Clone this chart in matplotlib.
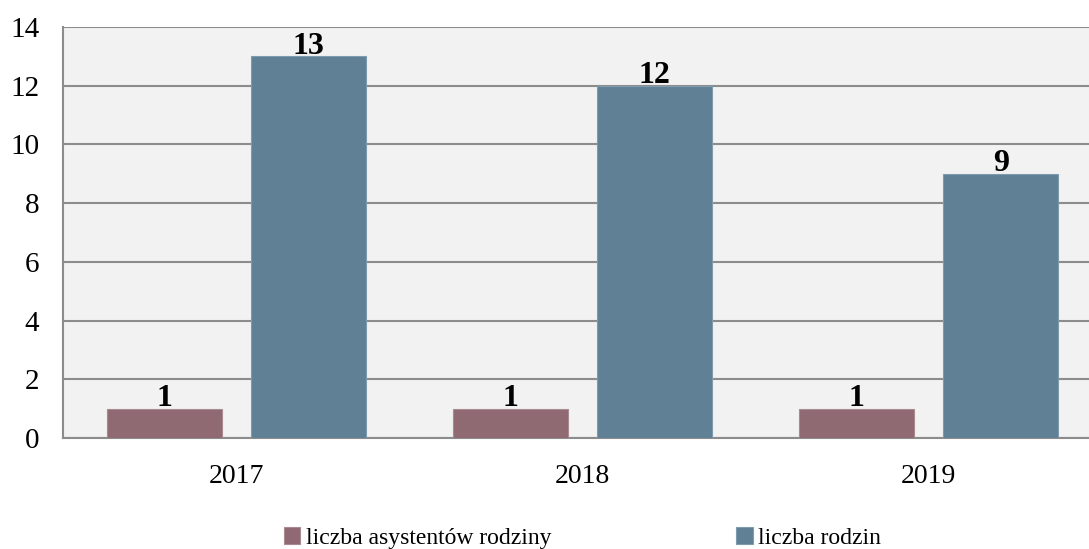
import numpy as np
import matplotlib.pyplot as plt

# Dane z wykresu
years = ["2017", "2018", "2019"]
asystenci = [1, 1, 1]
rodziny = [13, 12, 9]
series_names = ["liczba asystentów rodziny", "liczba rodzin"]

plt.rcParams['font.family'] = ['Liberation Serif', 'DejaVu Serif']

fig = plt.figure(figsize=(10.89, 5.49), dpi=100)
ax = fig.add_axes([0.0579, 0.2022, 0.954, 0.7486])
ax.set_facecolor("#f2f2f2")

x = np.arange(len(years))
w = 0.333
off = 0.208
b1 = ax.bar(x - off, asystenci, w, color="#8f6a72", edgecolor="#a88a90", linewidth=0.8, zorder=3)
b2 = ax.bar(x + off, rodziny, w, color="#608095", edgecolor="#7f9cae", linewidth=0.8, zorder=3)

for bars in (b1, b2):
    for r in bars:
        ax.annotate(f"{int(r.get_height())}", (r.get_x() + r.get_width() / 2, r.get_height()),
                    xytext=(0, -3), textcoords="offset points", ha="center", va="bottom",
                    fontsize=23, fontweight="bold", zorder=4)

ax.set_xlim(-0.5, 2.5)
ax.set_ylim(0, 14)
ax.set_yticks(range(0, 15, 2))
ax.set_xticks(x)
ax.set_xticklabels(years)
ax.yaxis.grid(True, color="#8c8c8c", linewidth=1.5, zorder=1)
ax.set_axisbelow(True)
ax.tick_params(axis="both", length=0)
ax.tick_params(axis="x", pad=19, labelsize=20)
ax.tick_params(axis="y", pad=17, labelsize=21)
for s in ["top", "right"]:
    ax.spines[s].set_visible(False)
ax.spines["left"].set_color("#8c8c8c")
ax.spines["bottom"].set_color("#8c8c8c")
ax.spines["left"].set_linewidth(1.5)
ax.spines["bottom"].set_linewidth(1.5)

fig.legend([b1, b2], series_names, loc="center", bbox_to_anchor=(0.535, 0.02), ncol=2,
           frameon=False, prop={'family': ['Liberation Serif'], 'size': 17},
           handlelength=0.7, handleheight=0.7, handletextpad=0.25, columnspacing=7.8)

fig.savefig("out.png", dpi=100)
